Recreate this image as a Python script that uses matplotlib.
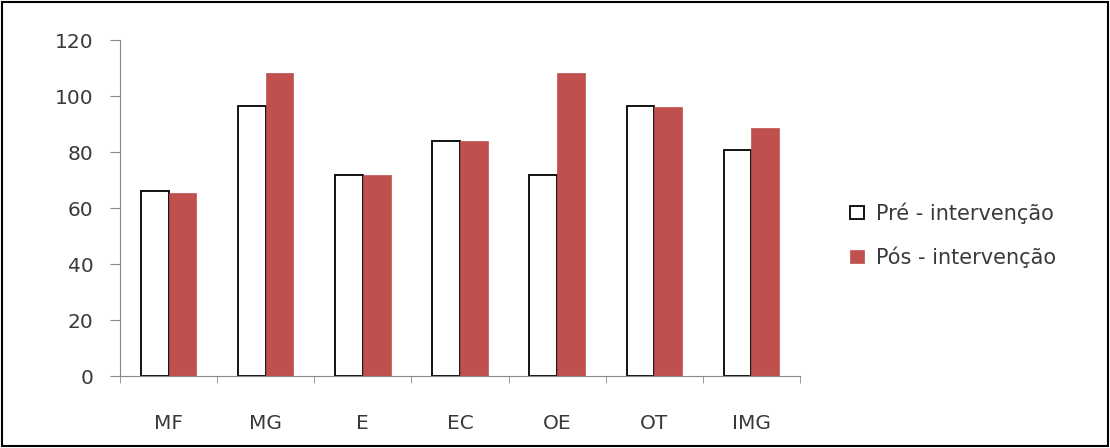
import matplotlib.pyplot as plt
import numpy as np
from matplotlib.patches import Rectangle

categories = ["MF", "MG", "E", "EC", "OE", "OT", "IMG"]
pre = [66, 96.3, 71.7, 84, 71.7, 96.3, 80.8]
pos = [65.5, 108.2, 71.7, 83.8, 108.2, 95.9, 88.7]

plt.rcParams['font.family'] = ['DejaVu Sans']
text_color = "#3a3a3a"

fig = plt.figure(figsize=(11.1, 4.48), dpi=100)
ax = fig.add_axes([120 / 1110, (448 - 376) / 448, 680 / 1110, 336 / 448])

x = np.arange(len(categories))
w = 0.285
ax.bar(x - w / 2, pre, w, color="white", edgecolor="black", linewidth=1.3,
       label="Pré - intervenção")
ax.bar(x + w / 2, pos, w, color="#C0504D", edgecolor="#C0504D", linewidth=0.5,
       label="Pós - intervenção")

ax.set_xlim(-0.5, len(categories) - 0.5)
ax.set_ylim(0, 120)
ax.set_yticks(range(0, 121, 20))
ax.set_xticks(x)
ax.set_xticklabels(categories)
ax.set_xticks(np.arange(-0.5, len(categories), 1), minor=True)
ax.tick_params(axis="x", which="major", length=0, pad=27, labelsize=14.5, colors=text_color)
ax.tick_params(axis="x", which="minor", length=5, color="#888888", direction="out")
ax.tick_params(axis="y", length=7, color="#888888", labelsize=14.5, labelcolor=text_color, pad=12)

for s in ["top", "right"]:
    ax.spines[s].set_visible(False)
ax.spines["left"].set_color("#888888")
ax.spines["bottom"].set_color("#888888")

ax.legend(loc="center left", bbox_to_anchor=(850 / 1110, (448 - 235) / 448),
          bbox_transform=fig.transFigure, frameon=False, borderaxespad=0, borderpad=0,
          fontsize=15, handlelength=0.67, handleheight=0.62, handletextpad=0.6,
          labelspacing=1.08, labelcolor=text_color)

fig.patches.append(Rectangle((0.002, 0.004), 0.996, 0.992, transform=fig.transFigure,
                             fill=False, edgecolor="black", linewidth=1.5))

fig.savefig("out.png", dpi=100)
